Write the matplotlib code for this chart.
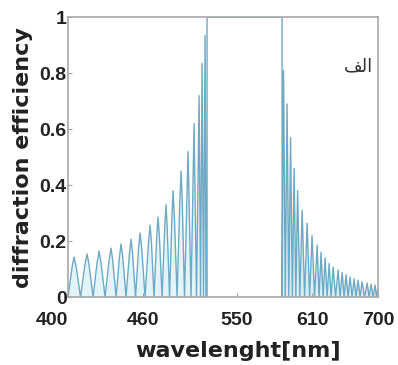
import numpy as np
import matplotlib
matplotlib.use('Agg')
import matplotlib.pyplot as plt

# ---- data (wavelength in nm, efficiency 0..1) ----
left_peak_wl = [405.8, 418.4, 430.0, 441.6, 451.3, 461.0, 469.7, 479.4, 487.1, 494.8,
                501.6, 509.4, 516.1, 521.9, 526.8, 529.7, 532.6]
left_peak_eff = [0.143, 0.154, 0.164, 0.175, 0.19, 0.207, 0.229, 0.257, 0.286, 0.33,
                 0.38, 0.45, 0.52, 0.62, 0.72, 0.835, 0.935]
left_zero_wl = [400.0, 412.1, 424.2, 435.8, 446.5, 456.1, 465.3, 474.5, 483.2, 491.0,
                498.2, 505.5, 512.7, 519.0, 524.3, 528.2, 531.1, 533.5]
# shoulders of the wider left lobes (rising side, falling side, level)
left_rise_wl = [403.9, 416.3, 428.1, 439.7, 449.7, 459.4, 468.2, 477.8, 485.8, 493.5, 500.5, 508.1]
left_fall_wl = [407.9, 420.3, 431.9, 443.2, 452.9, 462.4, 471.3, 480.7, 488.4, 495.9, 502.9, 510.5]
left_shoulder_eff = [0.107, 0.116, 0.123, 0.131, 0.143, 0.155, 0.172, 0.193, 0.215, 0.248,
                     0.285, 0.338]

band_wl = [534.5, 607.1]      # region of full efficiency
band_eff = [1.0, 1.0]

right_peak_wl = [608.5, 611.9, 615.3, 618.7, 622.1, 626.5, 631.3, 636.1, 641.0, 644.8,
                 648.7, 652.6, 656.5, 661.3, 665.2, 669.0, 672.9, 676.8, 680.6, 684.5,
                 689.4, 693.2, 697.1]
right_peak_eff = [0.81, 0.69, 0.57, 0.46, 0.38, 0.31, 0.264, 0.22, 0.186, 0.16,
                  0.14, 0.12, 0.107, 0.097, 0.088, 0.08, 0.072, 0.065, 0.06, 0.055,
                  0.05, 0.046, 0.043]
right_zero_wl = [607.1, 610.2, 613.6, 617.0, 620.4, 624.3, 628.9, 633.7, 638.5, 642.9,
                 646.8, 650.6, 654.5, 658.9, 663.2, 667.1, 671.0, 674.8, 678.7, 682.6,
                 686.9, 691.3, 695.2, 698.5]
end_wl, end_eff = 700.0, 0.035

xtick_labels = ['400', '460', '550', '610', '700']
xtick_pos = [400, 472.6, 563.5, 636.1, 700]
ytick_vals = [0, 0.2, 0.4, 0.6, 0.8, 1]
ytick_labels = ['0', '0.2', '0.4', '0.6', '0.8', '1']

# ---- assemble curve pieces ----
lw_, le_ = [], []
for i in range(len(left_peak_wl)):
    lw_.append(left_zero_wl[i]); le_.append(0.0)
    if i < len(left_rise_wl):
        lw_ += [left_rise_wl[i], left_peak_wl[i], left_fall_wl[i]]
        le_ += [left_shoulder_eff[i], left_peak_eff[i], left_shoulder_eff[i]]
    else:
        lw_.append(left_peak_wl[i]); le_.append(left_peak_eff[i])
lw_ += [left_zero_wl[-1], band_wl[0]]
le_ += [0.0, 0.0]

bw_ = [band_wl[0], band_wl[0], band_wl[1], band_wl[1]]
be_ = [0.0, band_eff[0], band_eff[1], 0.02]

rw_, re_ = [], []
for i in range(len(right_peak_wl)):
    rw_ += [right_zero_wl[i], right_peak_wl[i]]
    re_ += [0.0, right_peak_eff[i]]
rw_ += [right_zero_wl[-1], end_wl]
re_ += [0.0, end_eff]

plt.rcParams['font.family'] = ['Liberation Sans', 'DejaVu Sans']
fig = plt.figure(figsize=(3.98, 3.65), dpi=100)
ax = fig.add_axes([0.171, 0.186, 0.779, 0.767])

line_c = '#6fa9c4'
ax.fill_between(lw_, le_, 0, color='#e2f4f8', lw=0)
ax.fill_between(rw_, re_, 0, color='#d6eef5', lw=0)
ax.plot(lw_ + bw_ + rw_, le_ + be_ + re_, color=line_c, lw=1.0)

ax.set_xlim(400, 700)
ax.set_ylim(0, 1)
ax.set_xticks(xtick_pos, xtick_labels)
ax.set_yticks(ytick_vals, ytick_labels)
ax.tick_params(direction='in', length=3, color='#a0a0a0', width=0.8, labelsize=14)
ax.tick_params(axis='x', pad=11)
ax.tick_params(axis='y', pad=1)
for lab in ax.get_xticklabels() + ax.get_yticklabels():
    lab.set_fontweight('bold')
    lab.set_color('#222222')
ax.get_xticklabels()[0].set_horizontalalignment('right')
for s in ax.spines.values():
    s.set_color('#a8a8a8')
    s.set_linewidth(1.2)

ax.set_xlabel('wavelenght[nm]', fontsize=16, fontweight='bold', color='#222222',
              family=['DejaVu Sans'])
ax.set_ylabel('diffraction efficiency', fontsize=16, fontweight='bold', color='#222222',
              family=['DejaVu Sans'])
ax.xaxis.set_label_coords(0.548, -0.157)
ax.yaxis.set_label_coords(-0.113, 0.5)

# Persian label "الف" (presentation forms, visual order)
ax.text(0.935, 0.825, '\uFED2\uFEDF\uFE8D', transform=ax.transAxes, ha='center', va='center',
        fontsize=13, family=['DejaVu Sans'], color='#333333')

fig.savefig('out.png', dpi=100)
